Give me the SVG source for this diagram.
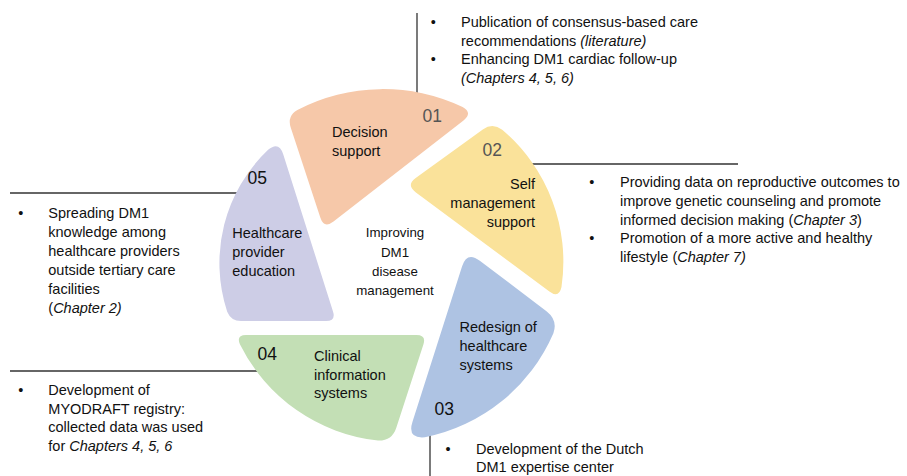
<svg xmlns="http://www.w3.org/2000/svg" width="907" height="476" viewBox="0 0 907 476">
<style>
.t{font-family:"Liberation Sans",Arial,sans-serif;font-size:14.5px;fill:#111}
.n{font-family:"Liberation Sans",Arial,sans-serif;font-size:17.5px;fill:#111}
.g{fill:#555}
.c{font-family:"Liberation Sans",Arial,sans-serif;font-size:13.3px;fill:#111;text-anchor:middle}
.r{text-anchor:end}
.b{text-anchor:middle}
.i{font-style:italic}
.ln{stroke:#333;stroke-width:1.3;fill:none}
</style>
<rect width="907" height="476" fill="#fff"/>
<g id="connectors">
<line class="ln" x1="417" y1="13" x2="417" y2="123"/>
<line class="ln" x1="483" y1="164" x2="738" y2="164"/>
<line class="ln" x1="430" y1="403" x2="430" y2="476"/>
<line class="ln" x1="10" y1="371" x2="266" y2="371"/>
<line class="ln" x1="10" y1="193" x2="265" y2="193"/>
</g>
<g id="node-01">
<path d="M290.7,127.4 L320.3,217.6 Q324,229 333.5,221.6 L463.5,120.4 Q473,113 462.6,107.1 A185.5,185.5 0 0 0 297.4,110 Q287,116 290.7,127.4 Z" fill="#F6C8A9"/>
<text class="t" x="332" y="137">Decision</text>
<text class="t" x="332" y="156">support</text>
<text class="n g" x="422.5" y="122">01</text>
</g>
<g id="node-02">
<path d="M482.8,129.6 L415.7,178 Q406,185 415.6,192.2 L549.4,291.5 Q559,298.7 561.5,287 A173,173 0 0 0 502.2,129.7 Q492.5,122.6 482.8,129.6 Z" fill="#FAE29A"/>
<text class="t r" x="535" y="188.5">Self</text>
<text class="t r" x="535" y="207.7">management</text>
<text class="t r" x="535" y="226.7">support</text>
<text class="n g" x="482.5" y="155.7">02</text>
</g>
<g id="node-03">
<path d="M479.8,260.7 L546.8,311.5 Q558,320.4 553.4,333.2 A178,178 0 0 1 424.9,437.3 Q407,439 412.5,421.8 L462.1,266.2 Q467,251 479.8,260.7 Z" fill="#AEC3E3"/>
<text class="t" x="459.5" y="331.7">Redesign of</text>
<text class="t" x="459.5" y="350.7">healthcare</text>
<text class="t" x="459.5" y="369.7">systems</text>
<text class="n" x="434.5" y="415">03</text>
</g>
<g id="node-04">
<path d="M246,335 L416.5,335 Q426.5,335 423.4,344.5 L396.3,427.7 Q392,441 378,440.6 A175,175 0 0 1 239.9,344.2 Q236,335 246,335 Z" fill="#C3DFB5"/>
<text class="t" x="314" y="361">Clinical</text>
<text class="t" x="314" y="379.5">information</text>
<text class="t" x="314" y="398">systems</text>
<text class="n" x="257.5" y="360">04</text>
</g>
<g id="node-05">
<path d="M333,311.5 L283.2,154.3 Q279,141 268.1,149.8 A156,156 0 0 0 227.2,311.7 Q231,321 241,321 L326,321 Q336,321 333,311.5 Z" fill="#CDCDE6"/>
<text class="t" x="232.3" y="237.7">Healthcare</text>
<text class="t" x="232.3" y="256.7">provider</text>
<text class="t" x="232.3" y="275.7">education</text>
<text class="n" x="247.5" y="184.3">05</text>
</g>
<g id="center">
<text class="c" x="395" y="237.3">Improving</text>
<text class="c" x="395" y="256.5">DM1</text>
<text class="c" x="395" y="275.7">disease</text>
<text class="c" x="395" y="295">management</text>
</g>
<g id="notes-01">
<text class="t b" x="433.3" y="27">•</text>
<text class="t" x="461" y="27">Publication of consensus-based care</text>
<text class="t" x="461" y="45.5">recommendations <tspan class="i">(literature)</tspan></text>
<text class="t b" x="433.3" y="64">•</text>
<text class="t" x="461" y="64">Enhancing DM1 cardiac follow-up</text>
<text class="t i" x="461" y="82.5">(Chapters 4, 5, 6)</text>
</g>
<g id="notes-02">
<text class="t b" x="591.7" y="187.3">•</text>
<text class="t" x="620" y="187.3">Providing data on reproductive outcomes to</text>
<text class="t" x="620" y="206">improve genetic counseling and promote</text>
<text class="t" x="620" y="224.7">informed decision making (<tspan class="i">Chapter 3</tspan>)</text>
<text class="t b" x="591.7" y="243.3">•</text>
<text class="t" x="620" y="243.3">Promotion of a more active and healthy</text>
<text class="t" x="620" y="262">lifestyle (<tspan class="i">Chapter 7)</tspan></text>
</g>
<g id="notes-03">
<text class="t b" x="448" y="454">•</text>
<text class="t" x="476" y="454">Development of the Dutch</text>
<text class="t" x="476" y="472">DM1 expertise center</text>
</g>
<g id="notes-04">
<text class="t b" x="20.7" y="395">•</text>
<text class="t" x="48.3" y="395">Development of</text>
<text class="t" x="48.3" y="413.5">MYODRAFT registry:</text>
<text class="t" x="48.3" y="432">collected data was used</text>
<text class="t" x="48.3" y="450.5">for <tspan class="i">Chapters 4, 5, 6</tspan></text>
</g>
<g id="notes-05">
<text class="t b" x="20.7" y="218.3">•</text>
<text class="t" x="48.3" y="218.3">Spreading DM1</text>
<text class="t" x="48.3" y="237.3">knowledge among</text>
<text class="t" x="48.3" y="256.3">healthcare providers</text>
<text class="t" x="48.3" y="275.3">outside tertiary care</text>
<text class="t" x="48.3" y="294.3">facilities</text>
<text class="t" x="48.3" y="313.3">(<tspan class="i">Chapter 2)</tspan></text>
</g>
</svg>
